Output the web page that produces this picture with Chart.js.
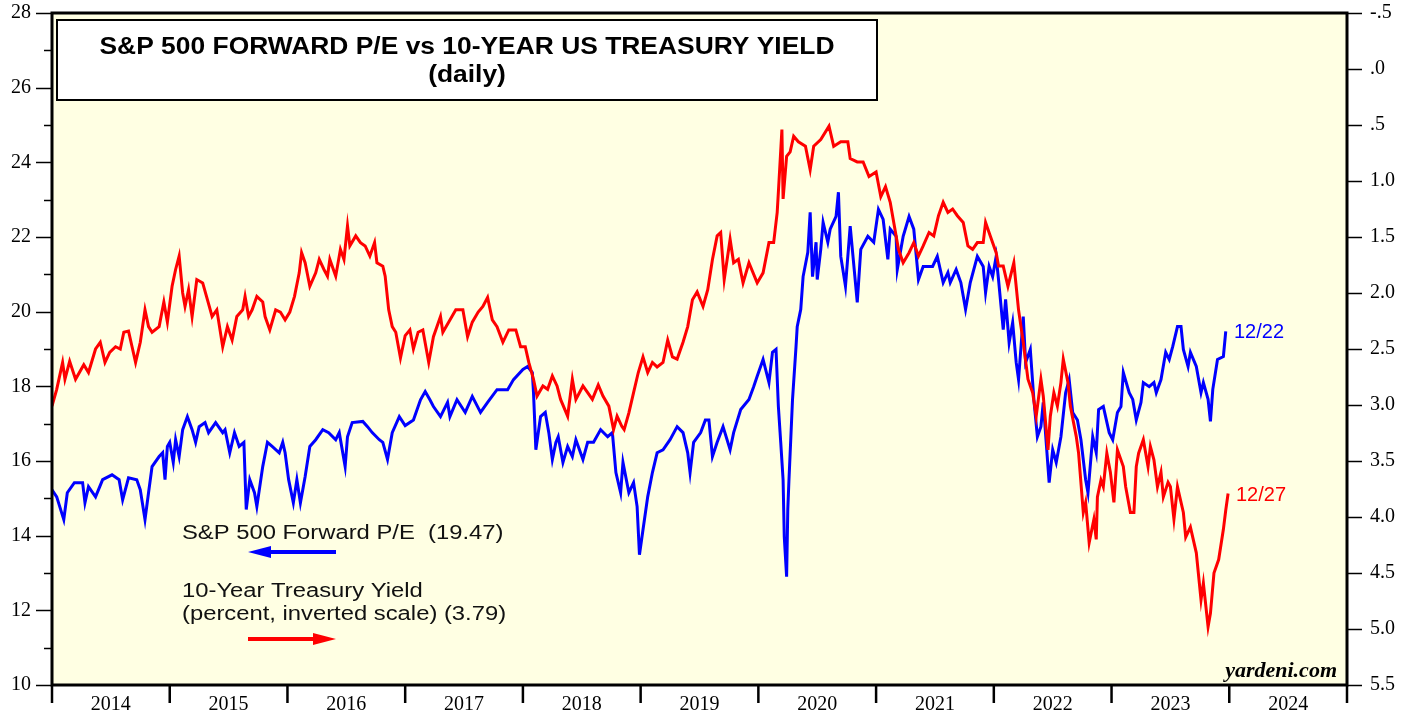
<!DOCTYPE html>
<html>
<head>
<meta charset="utf-8">
<title>S&P 500 Forward P/E vs 10-Year US Treasury Yield</title>
<script src="https://cdn.jsdelivr.net/npm/chart.js@4.4.0/dist/chart.umd.min.js"></script>
<style>
    html, body { margin: 0; padding: 0; background: #ffffff; }
    #wrap { position: relative; width: 1413px; height: 719px; }
</style>
</head>
<body>
<div id="wrap"><canvas id="peChart"></canvas></div>
<script>
    // Годовые подписи оси X
    const yearLabels = ['2014', '2015', '2016', '2017', '2018', '2019', '2020', '2021', '2022', '2023', '2024'];

    // S&P 500 forward P/E (левая ось), даты в долях года
    const peDates = [
        2014.00, 2014.04, 2014.10, 2014.13, 2014.19, 2014.26, 2014.28, 2014.31, 2014.37, 2014.43,
        2014.51, 2014.57, 2014.60, 2014.65, 2014.72, 2014.75, 2014.79, 2014.82, 2014.85, 2014.91,
        2014.94, 2014.96, 2014.98, 2015.00, 2015.03, 2015.05, 2015.08, 2015.11, 2015.15, 2015.19,
        2015.22, 2015.25, 2015.30, 2015.33, 2015.39, 2015.45, 2015.47, 2015.51, 2015.55, 2015.59,
        2015.63, 2015.65, 2015.68, 2015.72, 2015.74, 2015.79, 2015.83, 2015.87, 2015.93, 2015.96,
        2015.98, 2016.01, 2016.05, 2016.08, 2016.11, 2016.15, 2016.19, 2016.24, 2016.30, 2016.35,
        2016.41, 2016.44, 2016.49, 2016.51, 2016.55, 2016.64, 2016.68, 2016.72, 2016.78, 2016.81,
        2016.85, 2016.89, 2016.95, 2017.00, 2017.07, 2017.13, 2017.17, 2017.21, 2017.24, 2017.30,
        2017.36, 2017.38, 2017.44, 2017.51, 2017.57, 2017.64, 2017.70, 2017.78, 2017.87, 2017.92,
        2018.00, 2018.04, 2018.08, 2018.09, 2018.11, 2018.15, 2018.19, 2018.22, 2018.25, 2018.28,
        2018.30, 2018.34, 2018.38, 2018.42, 2018.45, 2018.51, 2018.55, 2018.60, 2018.66, 2018.72,
        2018.76, 2018.79, 2018.83, 2018.85, 2018.90, 2018.94, 2018.97, 2018.99, 2019.02, 2019.06,
        2019.10, 2019.14, 2019.19, 2019.25, 2019.31, 2019.36, 2019.40, 2019.42, 2019.45, 2019.51,
        2019.55, 2019.58, 2019.61, 2019.65, 2019.70, 2019.76, 2019.79, 2019.85, 2019.92, 2019.96,
        2019.99, 2020.04, 2020.09, 2020.12, 2020.15, 2020.17, 2020.19, 2020.21, 2020.22, 2020.24,
        2020.25, 2020.26, 2020.29, 2020.32, 2020.33, 2020.36, 2020.38, 2020.42, 2020.44, 2020.46,
        2020.49, 2020.50, 2020.53, 2020.55, 2020.59, 2020.61, 2020.66, 2020.68, 2020.70, 2020.74,
        2020.78, 2020.84, 2020.87, 2020.93, 2020.98, 2021.02, 2021.06, 2021.10, 2021.12, 2021.17,
        2021.18, 2021.23, 2021.28, 2021.32, 2021.36, 2021.40, 2021.48, 2021.52, 2021.57, 2021.61,
        2021.63, 2021.68, 2021.72, 2021.76, 2021.80, 2021.86, 2021.91, 2021.93, 2021.96, 2021.99,
        2022.02, 2022.04, 2022.08, 2022.10, 2022.13, 2022.16, 2022.19, 2022.21, 2022.25, 2022.27,
        2022.31, 2022.34, 2022.37, 2022.40, 2022.42, 2022.47, 2022.50, 2022.53, 2022.57, 2022.61,
        2022.64, 2022.67, 2022.71, 2022.74, 2022.78, 2022.80, 2022.84, 2022.87, 2022.89, 2022.93,
        2022.98, 2023.01, 2023.05, 2023.08, 2023.10, 2023.15, 2023.18, 2023.21, 2023.25, 2023.27,
        2023.32, 2023.36, 2023.38, 2023.42, 2023.46, 2023.49, 2023.52, 2023.56, 2023.59, 2023.61,
        2023.65, 2023.67, 2023.72, 2023.76, 2023.78, 2023.82, 2023.84, 2023.86, 2023.90, 2023.95,
        2023.97
    ];
    const peValues = [
        15.23, 15.04, 14.43, 15.15, 15.42, 15.42, 14.88, 15.31, 15.04, 15.50,
        15.63, 15.50, 14.96, 15.55, 15.50, 15.23, 14.43, 15.15, 15.85, 16.12,
        16.22, 15.50, 16.39, 16.50, 15.96, 16.57, 16.12, 16.84, 17.19, 16.84,
        16.50, 16.92, 17.03, 16.76, 17.03, 16.76, 16.84, 16.22, 16.76, 16.39,
        16.50, 14.70, 15.50, 15.15, 14.78, 15.85, 16.50, 16.39, 16.22, 16.50,
        16.22, 15.50, 14.88, 15.50, 14.88, 15.58, 16.39, 16.57, 16.84, 16.76,
        16.57, 16.76, 15.85, 16.65, 17.03, 17.06, 16.92, 16.76, 16.57, 16.50,
        16.04, 16.76, 17.19, 16.95, 17.10, 17.64, 17.86, 17.64, 17.46, 17.19,
        17.57, 17.19, 17.64, 17.30, 17.73, 17.30, 17.57, 17.91, 17.91, 18.18,
        18.45, 18.53, 18.37, 17.83, 16.30, 17.19, 17.30, 16.76, 16.04, 16.50,
        16.65, 15.96, 16.39, 16.12, 16.57, 16.04, 16.50, 16.50, 16.84, 16.65,
        16.76, 15.69, 15.15, 15.96, 15.15, 15.42, 14.78, 13.49, 14.16, 15.04,
        15.69, 16.22, 16.30, 16.57, 16.92, 16.76, 16.22, 15.69, 16.50, 16.76,
        17.10, 17.10, 16.12, 16.50, 16.92, 16.30, 16.76, 17.38, 17.65, 17.99,
        18.27, 18.72, 18.10, 18.91, 18.99, 17.46, 16.50, 15.50, 13.97, 12.90,
        14.70, 15.50, 17.64, 19.07, 19.60, 20.06, 20.94, 21.59, 22.66, 20.94,
        21.86, 20.86, 21.67, 22.39, 21.86, 22.21, 22.55, 23.20, 21.48, 20.68,
        22.29, 20.25, 21.67, 22.02, 21.86, 22.74, 22.47, 21.40, 22.21, 22.02,
        21.13, 22.02, 22.55, 22.21, 20.86, 21.21, 21.21, 21.48, 20.78, 21.05,
        20.78, 21.13, 20.78, 20.06, 20.78, 21.48, 21.21, 20.51, 21.21, 20.94,
        21.48, 20.86, 19.52, 20.33, 19.17, 19.71, 18.64, 18.18, 19.87, 18.64,
        18.99, 17.65, 16.65, 16.92, 17.57, 15.42, 16.30, 15.96, 16.65, 17.83,
        18.18, 17.30, 17.10, 16.57, 15.50, 15.15, 16.65, 16.22, 17.38, 17.46,
        16.76, 16.57, 17.30, 17.46, 18.37, 17.83, 17.65, 17.10, 17.57, 18.10,
        17.99, 18.10, 17.83, 18.18, 18.91, 18.72, 19.07, 19.60, 19.60, 18.99,
        18.53, 18.91, 18.53, 17.83, 18.10, 17.65, 17.06, 17.92, 18.72, 18.80,
        19.47
    ];

    // Доходность 10-летних казначейских облигаций (правая ось, перевёрнутая)
    const yieldDates = [
        2014.00, 2014.04, 2014.09, 2014.11, 2014.15, 2014.20, 2014.27, 2014.31, 2014.37, 2014.41,
        2014.45, 2014.49, 2014.54, 2014.58, 2014.61, 2014.65, 2014.68, 2014.71, 2014.75, 2014.79,
        2014.82, 2014.85, 2014.91, 2014.95, 2014.98, 2015.02, 2015.05, 2015.08, 2015.11, 2015.13,
        2015.16, 2015.19, 2015.23, 2015.28, 2015.32, 2015.36, 2015.40, 2015.45, 2015.49, 2015.53,
        2015.57, 2015.62, 2015.64, 2015.67, 2015.70, 2015.74, 2015.79, 2015.81, 2015.85, 2015.90,
        2015.94, 2015.98, 2016.02, 2016.06, 2016.10, 2016.12, 2016.15, 2016.19, 2016.24, 2016.27,
        2016.31, 2016.34, 2016.36, 2016.41, 2016.45, 2016.48, 2016.51, 2016.53, 2016.58, 2016.62,
        2016.66, 2016.70, 2016.74, 2016.76, 2016.81, 2016.83, 2016.86, 2016.89, 2016.92, 2016.96,
        2017.00, 2017.04, 2017.07, 2017.11, 2017.15, 2017.20, 2017.24, 2017.30, 2017.32, 2017.38,
        2017.43, 2017.49, 2017.53, 2017.57, 2017.62, 2017.66, 2017.70, 2017.74, 2017.78, 2017.83,
        2017.88, 2017.94, 2017.98, 2018.02, 2018.05, 2018.09, 2018.12, 2018.17, 2018.21, 2018.25,
        2018.29, 2018.32, 2018.38, 2018.42, 2018.45, 2018.51, 2018.55, 2018.59, 2018.64, 2018.68,
        2018.73, 2018.77, 2018.80, 2018.84, 2018.86, 2018.90, 2018.94, 2018.98, 2019.02, 2019.06,
        2019.10, 2019.14, 2019.19, 2019.23, 2019.27, 2019.31, 2019.36, 2019.40, 2019.44, 2019.48,
        2019.53, 2019.57, 2019.61, 2019.65, 2019.68, 2019.71, 2019.76, 2019.79, 2019.83, 2019.87,
        2019.92, 2019.99, 2020.04, 2020.09, 2020.13, 2020.16, 2020.17, 2020.20, 2020.21, 2020.24,
        2020.27, 2020.30, 2020.34, 2020.40, 2020.44, 2020.47, 2020.53, 2020.60, 2020.64, 2020.70,
        2020.76, 2020.78, 2020.84, 2020.89, 2020.94, 2021.00, 2021.04, 2021.08, 2021.12, 2021.15,
        2021.19, 2021.23, 2021.28, 2021.32, 2021.36, 2021.40, 2021.45, 2021.49, 2021.53, 2021.57,
        2021.61, 2021.65, 2021.69, 2021.74, 2021.78, 2021.82, 2021.86, 2021.91, 2021.93, 2021.97,
        2022.02, 2022.04, 2022.08, 2022.12, 2022.17, 2022.21, 2022.25, 2022.29, 2022.33, 2022.36,
        2022.40, 2022.42, 2022.46, 2022.48, 2022.51, 2022.54, 2022.57, 2022.59, 2022.63, 2022.65,
        2022.70, 2022.72, 2022.76, 2022.78, 2022.81, 2022.85, 2022.87, 2022.88, 2022.91, 2022.93,
        2022.96, 2022.99, 2023.02, 2023.05, 2023.10, 2023.12, 2023.16, 2023.19, 2023.21, 2023.23,
        2023.27, 2023.31, 2023.33, 2023.36, 2023.39, 2023.42, 2023.44, 2023.48, 2023.50, 2023.53,
        2023.56, 2023.61, 2023.63, 2023.67, 2023.72, 2023.76, 2023.78, 2023.82, 2023.84, 2023.87,
        2023.91, 2023.95, 2023.97, 2023.99
    ];
    const yieldValues = [
        3.01, 2.86, 2.62, 2.77, 2.61, 2.77, 2.64, 2.71, 2.50, 2.44,
        2.62, 2.53, 2.48, 2.50, 2.35, 2.34, 2.48, 2.62, 2.44, 2.15,
        2.30, 2.35, 2.30, 2.08, 2.26, 1.94, 1.79, 1.67, 2.00, 2.12,
        1.97, 2.21, 1.88, 1.91, 2.06, 2.21, 2.15, 2.48, 2.30, 2.42,
        2.21, 2.15, 2.03, 2.21, 2.15, 2.03, 2.08, 2.21, 2.33, 2.15,
        2.17, 2.24, 2.17, 2.03, 1.82, 1.64, 1.73, 1.94, 1.82, 1.70,
        1.79, 1.85, 1.70, 1.85, 1.61, 1.70, 1.40, 1.58, 1.49, 1.55,
        1.58, 1.67, 1.55, 1.73, 1.76, 1.85, 2.15, 2.30, 2.35, 2.58,
        2.38, 2.33, 2.50, 2.35, 2.33, 2.62, 2.39, 2.21, 2.35, 2.24,
        2.15, 2.15, 2.39, 2.26, 2.17, 2.12, 2.04, 2.24, 2.30, 2.44,
        2.33, 2.33, 2.48, 2.48, 2.62, 2.77, 2.92, 2.83, 2.86, 2.74,
        2.83, 2.95, 3.10, 2.77, 2.95, 2.83, 2.89, 2.95, 2.82, 2.92,
        3.01, 3.22, 3.10, 3.19, 3.22, 3.07, 2.89, 2.71, 2.57, 2.71,
        2.62, 2.66, 2.62, 2.42, 2.57, 2.59, 2.44, 2.30, 2.06, 1.99,
        2.12, 1.97, 1.70, 1.49, 1.46, 1.88, 1.52, 1.73, 1.70, 1.91,
        1.73, 1.91, 1.82, 1.55, 1.55, 1.28, 1.10, 0.54, 1.16, 0.78,
        0.74, 0.60, 0.65, 0.69, 0.90, 0.69, 0.63, 0.51, 0.69, 0.65,
        0.65, 0.80, 0.83, 0.83, 0.96, 0.92, 1.14, 1.05, 1.19, 1.37,
        1.61, 1.73, 1.64, 1.55, 1.67, 1.58, 1.46, 1.49, 1.31, 1.19,
        1.28, 1.25, 1.31, 1.37, 1.58, 1.61, 1.55, 1.55, 1.37, 1.49,
        1.64, 1.76, 1.76, 1.94, 1.73, 2.15, 2.44, 2.77, 2.89, 3.10,
        2.77, 2.92, 3.40, 3.10, 2.89, 3.01, 2.80, 2.59, 2.80, 3.01,
        3.28, 3.43, 3.96, 3.87, 4.23, 4.02, 4.20, 3.82, 3.67, 3.73,
        3.43, 3.60, 3.87, 3.40, 3.55, 3.73, 3.96, 3.96, 3.55, 3.43,
        3.31, 3.55, 3.37, 3.49, 3.73, 3.60, 3.82, 3.69, 3.73, 4.02,
        3.73, 3.96, 4.18, 4.09, 4.32, 4.74, 4.59, 4.98, 4.86, 4.50,
        4.38, 4.11, 3.94, 3.79
    ];

    const PE_COLOR = '#0000ff';
    const YIELD_COLOR = '#ff0000';
    const PLOT_BG = '#ffffe3';

    // Рисуем текст с горизонтальным растяжением
    function stretchText(ctx, text, x, y, scaleX, align) {
        ctx.save();
        ctx.translate(x, y);
        ctx.scale(scaleX, 1);
        ctx.textAlign = align || 'left';
        ctx.fillText(text, 0, 0);
        ctx.restore();
    }

    // Стрелка для легенды
    function drawArrow(ctx, x1, x2, y, color, pointLeft) {
        const head = 23, half = 6;
        ctx.save();
        ctx.strokeStyle = color;
        ctx.fillStyle = color;
        ctx.lineWidth = 4;
        ctx.beginPath();
        if (pointLeft) {
            ctx.moveTo(x1 + head - 2, y);
            ctx.lineTo(x2, y);
        } else {
            ctx.moveTo(x1, y);
            ctx.lineTo(x2 - head + 2, y);
        }
        ctx.stroke();
        ctx.beginPath();
        if (pointLeft) {
            ctx.moveTo(x1, y);
            ctx.lineTo(x1 + head, y - half);
            ctx.lineTo(x1 + head, y + half);
        } else {
            ctx.moveTo(x2, y);
            ctx.lineTo(x2 - head, y - half);
            ctx.lineTo(x2 - head, y + half);
        }
        ctx.closePath();
        ctx.fill();
        ctx.restore();
    }

    // Убираем внутренние отступы шкалы, чтобы область графика стояла на месте
    function fixWidth(w) {
        return scale => {
            scale.width = w;
            scale.paddingTop = 0;
            scale.paddingBottom = 0;
        };
    }

    // Плагин: фон, рамка, засечки, заголовок и подписи
    const decorPlugin = {
        id: 'decor',
        beforeDraw(chart) {
            const { ctx, chartArea: a } = chart;
            ctx.save();
            ctx.fillStyle = PLOT_BG;
            ctx.fillRect(a.left, a.top, a.right - a.left, a.bottom - a.top);
            ctx.restore();
        },
        afterDraw(chart) {
            const { ctx, chartArea: a, scales } = chart;
            ctx.save();
            ctx.strokeStyle = '#000';

            // засечки левой оси
            ctx.lineWidth = 1.5;
            for (let v = 10; v <= 28; v++) {
                const y = Math.round(scales.yPE.getPixelForValue(v)) + 0.5;
                const len = v % 2 === 0 ? 16 : 8;
                ctx.beginPath();
                ctx.moveTo(a.left - len, y);
                ctx.lineTo(a.left, y);
                ctx.stroke();
            }
            // засечки правой оси
            for (let i = 0; i <= 12; i++) {
                const y = Math.round(scales.yYield.getPixelForValue(-0.5 + i * 0.5)) + 0.5;
                ctx.beginPath();
                ctx.moveTo(a.right, y);
                ctx.lineTo(a.right + 15, y);
                ctx.stroke();
            }
            // границы лет
            ctx.lineWidth = 2.5;
            for (let yr = 2014; yr <= 2025; yr++) {
                const x = scales.x.getPixelForValue(yr);
                ctx.beginPath();
                ctx.moveTo(x, a.bottom);
                ctx.lineTo(x, a.bottom + 18);
                ctx.stroke();
            }

            // рамка области графика
            ctx.lineWidth = 3;
            ctx.strokeRect(a.left, a.top, a.right - a.left, a.bottom - a.top);

            // блок заголовка
            ctx.fillStyle = '#fff';
            ctx.fillRect(57, 20, 820, 80);
            ctx.lineWidth = 2;
            ctx.strokeRect(57, 20, 820, 80);
            ctx.fillStyle = '#000';
            ctx.font = 'bold 24px "Liberation Sans", Arial, sans-serif';
            ctx.textBaseline = 'middle';
            stretchText(ctx, 'S&P 500 FORWARD P/E vs 10-YEAR US TREASURY YIELD', 467, 47, 1.10, 'center');
            stretchText(ctx, '(daily)', 467, 75, 1.10, 'center');

            // легенда
            ctx.fillStyle = '#111';
            ctx.font = '20px "Liberation Sans", Arial, sans-serif';
            ctx.textBaseline = 'alphabetic';
            stretchText(ctx, 'S&P 500 Forward P/E  (19.47)', 182, 539, 1.19, 'left');
            stretchText(ctx, '10-Year Treasury Yield', 182, 597, 1.19, 'left');
            stretchText(ctx, '(percent, inverted scale) (3.79)', 182, 620, 1.19, 'left');
            drawArrow(ctx, 248, 336, 552, PE_COLOR, true);
            drawArrow(ctx, 248, 336, 639, YIELD_COLOR, false);

            // подписи последних дат
            ctx.font = '20px "Liberation Sans", Arial, sans-serif';
            ctx.fillStyle = PE_COLOR;
            ctx.fillText('12/22', 1234, 338);
            ctx.fillStyle = YIELD_COLOR;
            ctx.fillText('12/27', 1236, 501);

            // источник
            ctx.fillStyle = '#000';
            ctx.font = 'italic bold 22px "Liberation Serif", "Times New Roman", serif';
            ctx.textAlign = 'right';
            ctx.fillText('yardeni.com', 1337, 677);
            ctx.restore();
        }
    };

    // Инициализация графика
    const ctx = document.getElementById('peChart').getContext('2d');
    const chart = new Chart(ctx, {
        type: 'line',
        data: {
            datasets: [
                {
                    label: '10-Year Treasury Yield',
                    data: yieldDates.map((d, i) => ({ x: d, y: yieldValues[i] })),
                    yAxisID: 'yYield',
                    borderColor: YIELD_COLOR,
                    borderWidth: 3,
                    pointRadius: 0,
                    tension: 0,
                    fill: false
                },
                {
                    label: 'S&P 500 Forward P/E',
                    data: peDates.map((d, i) => ({ x: d, y: peValues[i] })),
                    yAxisID: 'yPE',
                    borderColor: PE_COLOR,
                    borderWidth: 3,
                    pointRadius: 0,
                    tension: 0,
                    fill: false
                }
            ]
        },
        options: {
            responsive: true,
            maintainAspectRatio: false,
            animation: false,
            layout: { padding: { top: 13, left: 0, right: 0, bottom: 0 } },
            plugins: {
                legend: { display: false },
                tooltip: { enabled: false }
            },
            scales: {
                x: {
                    type: 'linear',
                    position: 'bottom',
                    min: 2014,
                    max: 2025,
                    afterBuildTicks: scale => {
                        scale.ticks = yearLabels.map(y => ({ value: Number(y) + 0.5 }));
                    },
                    afterFit: scale => {
                        scale.height = 34;
                        scale.paddingLeft = 0;
                        scale.paddingRight = 0;
                    },
                    grid: { display: false, drawTicks: false },
                    border: { display: false },
                    ticks: {
                        autoSkip: false,
                        maxRotation: 0,
                        padding: 8,
                        color: '#000',
                        font: { family: '"Liberation Serif", "Times New Roman", serif', size: 20 },
                        callback: v => String(Math.floor(v))
                    }
                },
                yPE: {
                    type: 'linear',
                    position: 'left',
                    min: 10,
                    max: 28,
                    afterFit: fixWidth(52),
                    grid: { display: false, drawTicks: false },
                    border: { display: false },
                    ticks: {
                        stepSize: 2,
                        padding: 21,
                        color: '#000',
                        font: { family: '"Liberation Serif", "Times New Roman", serif', size: 20 }
                    }
                },
                yYield: {
                    type: 'linear',
                    position: 'right',
                    reverse: true,
                    min: -0.5,
                    max: 5.5,
                    afterFit: fixWidth(66),
                    grid: { display: false, drawTicks: false },
                    border: { display: false },
                    ticks: {
                        stepSize: 0.5,
                        padding: 23,
                        color: '#000',
                        font: { family: '"Liberation Serif", "Times New Roman", serif', size: 20 },
                        callback: v => {
                            const s = v.toFixed(1);
                            return Math.abs(v) < 1 ? s.replace('0.', '.') : s;
                        }
                    }
                }
            }
        },
        plugins: [decorPlugin]
    });
</script>
</body>
</html>
